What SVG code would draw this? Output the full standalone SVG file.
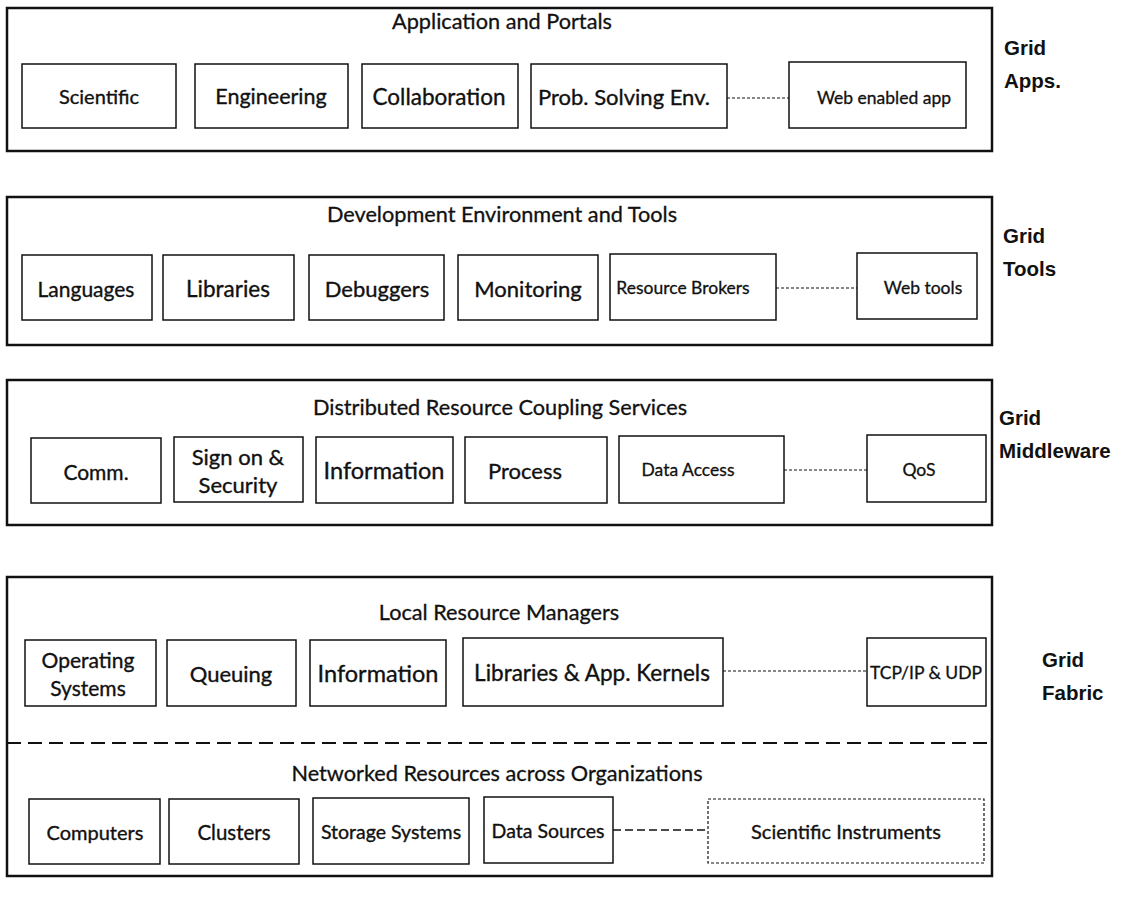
<svg xmlns="http://www.w3.org/2000/svg" width="1124" height="905" viewBox="0 0 1124 905">
  <style>
    .panel { fill: none; stroke: #111; stroke-width: 2.5; }
    .box { fill: #fff; stroke: #111; stroke-width: 1.5; }
    .dbox { fill: #fff; stroke: #111; stroke-width: 1.2; stroke-dasharray: 3 2; }
    .link { stroke: #111; stroke-width: 1.2; stroke-dasharray: 3 2; fill: none; }
    .link-long { stroke: #111; stroke-width: 1.3; stroke-dasharray: 8 4; fill: none; }
    .sep { stroke: #111; stroke-width: 2; stroke-dasharray: 14 7; fill: none; }
    .title { font-family: Lato, "Open Sans", sans-serif; font-size: 21.7px; fill: #111; stroke: #111; stroke-width: 0.3; text-anchor: middle; }
    .lbl { font-family: Lato, "Open Sans", sans-serif; font-size: 21px; fill: #111; stroke: #111; stroke-width: 0.35; text-anchor: middle; dominant-baseline: central; }
    .sm { font-family: Lato, "Open Sans", sans-serif; font-size: 17.5px; fill: #111; stroke: #111; stroke-width: 0.3; text-anchor: middle; dominant-baseline: central; }
    .side { font-family: "Liberation Sans", Arial, sans-serif; font-size: 20.5px; font-weight: bold; fill: #111; }
  </style>
  <rect width="1124" height="905" fill="#fff"/>

  <!-- Layer panels -->
  <g id="layer-apps">
    <rect class="panel" x="7" y="8" width="985" height="143"/>
    <text class="title" x="502" y="29">Application and Portals</text>
    <text class="side" x="1004" y="55">Grid</text>
    <text class="side" x="1004" y="88">Apps.</text>
  </g>
  <g id="layer-tools">
    <rect class="panel" x="7" y="197" width="985" height="148"/>
    <text class="title" x="502" y="222">Development Environment and Tools</text>
    <text class="side" x="1003" y="243">Grid</text>
    <text class="side" x="1003" y="276">Tools</text>
  </g>
  <g id="layer-middleware">
    <rect class="panel" x="7" y="380" width="985" height="145"/>
    <text class="title" x="500" y="415">Distributed Resource Coupling Services</text>
    <text class="side" x="999" y="425">Grid</text>
    <text class="side" x="999" y="458">Middleware</text>
  </g>
  <g id="layer-fabric">
    <rect class="panel" x="7" y="577" width="985" height="299"/>
    <line class="sep" x1="7" y1="743" x2="992" y2="743"/>
    <text class="title" x="499" y="620">Local Resource Managers</text>
    <text class="title" x="497" y="781">Networked Resources across Organizations</text>
    <text class="side" x="1042" y="667">Grid</text>
    <text class="side" x="1042" y="700">Fabric</text>
  </g>

  <!-- Connectors -->
  <g id="connectors">
    <line class="link" x1="727" y1="98" x2="789" y2="98"/>
    <line class="link" x1="776" y1="288" x2="857" y2="288"/>
    <line class="link" x1="784" y1="470" x2="867" y2="470"/>
    <line class="link" x1="723" y1="671" x2="867" y2="671"/>
    <line class="link-long" x1="613" y1="830" x2="708" y2="830"/>
  </g>

  <!-- Grid Apps -->
  <g id="scientific"><rect class="box" x="22" y="64" width="154" height="64"/><text class="lbl" x="99" y="96" style="font-size:20px">Scientific</text></g>
  <g id="engineering"><rect class="box" x="195" y="64" width="153" height="64"/><text class="lbl" x="271" y="96" style="font-size:21.5px">Engineering</text></g>
  <g id="collaboration"><rect class="box" x="362" y="64" width="156" height="64"/><text class="lbl" x="439" y="96" style="font-size:22.5px">Collaboration</text></g>
  <g id="pse"><rect class="box" x="531" y="64" width="196" height="64"/><text class="lbl" x="624" y="96" style="font-size:22px">Prob. Solving Env.</text></g>
  <g id="web-app"><rect class="box" x="789" y="62" width="177" height="66"/><text class="sm" x="884" y="97">Web enabled app</text></g>

  <!-- Grid Tools -->
  <g id="languages"><rect class="box" x="22" y="255" width="130" height="65"/><text class="lbl" x="86" y="288">Languages</text></g>
  <g id="libraries"><rect class="box" x="163" y="255" width="131" height="65"/><text class="lbl" x="228" y="288" style="font-size:22.5px">Libraries</text></g>
  <g id="debuggers"><rect class="box" x="309" y="255" width="135" height="65"/><text class="lbl" x="377" y="288" style="font-size:22px">Debuggers</text></g>
  <g id="monitoring"><rect class="box" x="458" y="255" width="140" height="65"/><text class="lbl" x="528" y="288" style="font-size:22px">Monitoring</text></g>
  <g id="brokers"><rect class="box" x="610" y="254" width="166" height="66"/><text class="sm" x="683" y="287">Resource Brokers</text></g>
  <g id="web-tools"><rect class="box" x="857" y="253" width="120" height="66"/><text class="sm" x="923" y="287">Web tools</text></g>

  <!-- Grid Middleware -->
  <g id="comm"><rect class="box" x="31" y="438" width="130" height="65"/><text class="lbl" x="96" y="471">Comm.</text></g>
  <g id="sign-on"><rect class="box" x="174" y="437" width="129" height="65"/><text class="lbl" x="238" y="456" style="font-size:22px">Sign on &amp;</text><text class="lbl" x="238" y="484" style="font-size:22px">Security</text></g>
  <g id="information-mw"><rect class="box" x="316" y="437" width="137" height="66"/><text class="lbl" x="384" y="470" style="font-size:23.5px">Information</text></g>
  <g id="process"><rect class="box" x="465" y="437" width="142" height="66"/><text class="lbl" x="525" y="470" style="font-size:22px">Process</text></g>
  <g id="data-access"><rect class="box" x="619" y="436" width="165" height="67"/><text class="sm" x="688" y="469">Data Access</text></g>
  <g id="qos"><rect class="box" x="867" y="435" width="119" height="67"/><text class="sm" x="919" y="469">QoS</text></g>

  <!-- Grid Fabric: local resource managers -->
  <g id="os"><rect class="box" x="25" y="640" width="131" height="66"/><text class="lbl" x="88" y="659">Operating</text><text class="lbl" x="88" y="687">Systems</text></g>
  <g id="queuing"><rect class="box" x="167" y="640" width="129" height="66"/><text class="lbl" x="231" y="673" style="font-size:22px">Queuing</text></g>
  <g id="information-fab"><rect class="box" x="310" y="640" width="136" height="66"/><text class="lbl" x="378" y="673" style="font-size:23.5px">Information</text></g>
  <g id="app-kernels"><rect class="box" x="463" y="638" width="260" height="68"/><text class="lbl" x="592" y="672" style="font-size:22.5px">Libraries &amp; App. Kernels</text></g>
  <g id="tcpip"><rect class="box" x="867" y="638" width="119" height="68"/><text class="sm" x="926" y="672">TCP/IP &amp; UDP</text></g>

  <!-- Grid Fabric: networked resources -->
  <g id="computers"><rect class="box" x="29" y="799" width="131" height="65"/><text class="lbl" x="95" y="832" style="font-size:20px">Computers</text></g>
  <g id="clusters"><rect class="box" x="169" y="799" width="130" height="65"/><text class="lbl" x="234" y="832" style="font-size:20.5px">Clusters</text></g>
  <g id="storage"><rect class="box" x="313" y="798" width="156" height="66"/><text class="lbl" x="391" y="831" style="font-size:19.5px">Storage Systems</text></g>
  <g id="data-sources"><rect class="box" x="484" y="797" width="129" height="66"/><text class="lbl" x="548" y="830" style="font-size:19.5px">Data Sources</text></g>
  <g id="instruments"><rect class="dbox" x="708" y="799" width="276" height="64"/><text class="lbl" x="846" y="831" style="font-size:20px">Scientific Instruments</text></g>
</svg>
